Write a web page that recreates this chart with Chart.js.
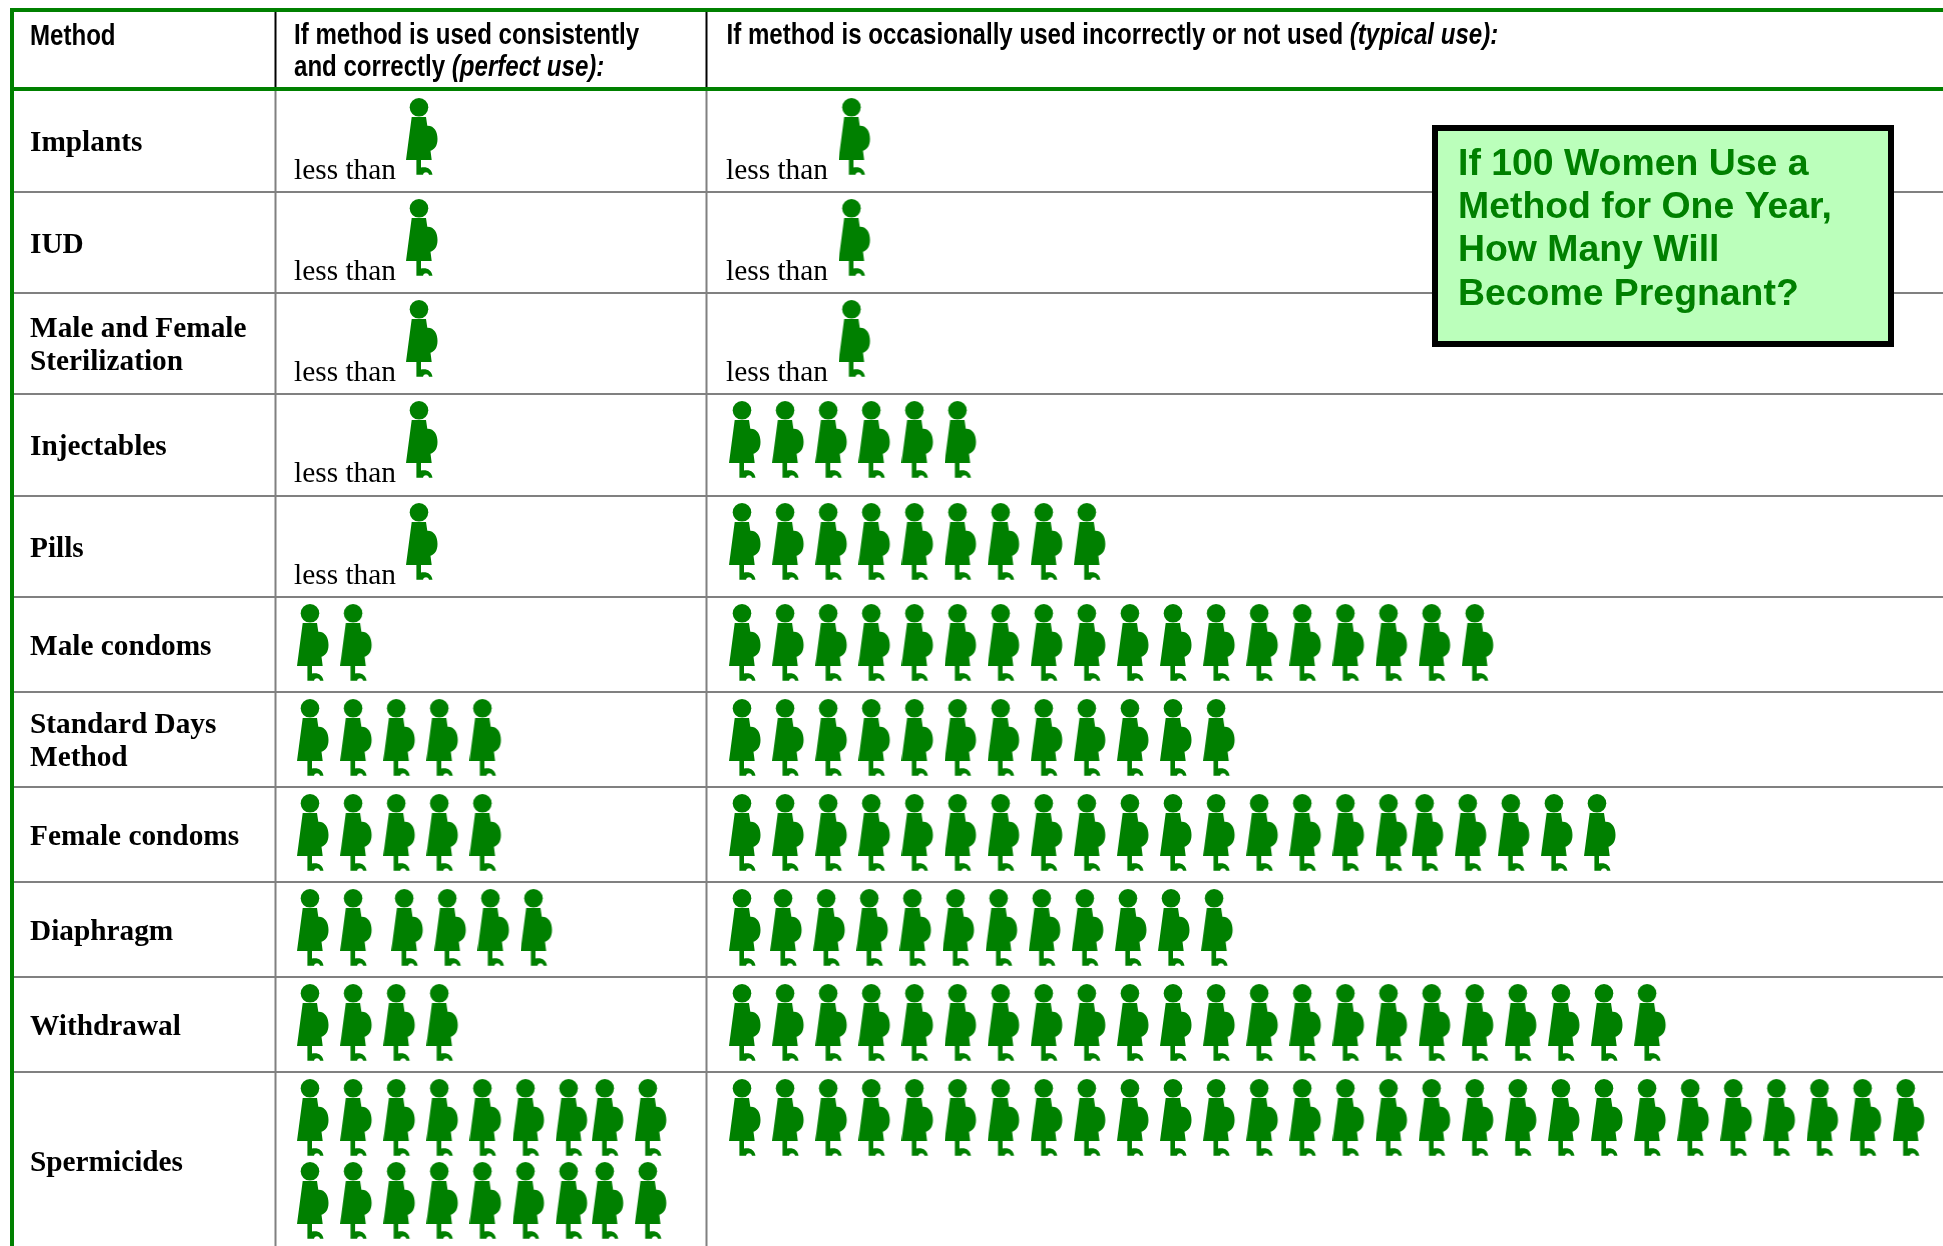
<!DOCTYPE html>
<html>
<head>
<meta charset="utf-8">
<title>If 100 Women Use a Method for One Year</title>
<script src="https://cdn.jsdelivr.net/npm/chart.js@4"></script>
<style>
  html, body { margin: 0; padding: 0; background: #fff; }
  canvas { display: block; }
</style>
</head>
<body>
<canvas id="methodsChart" width="1943" height="1246"></canvas>
<script>
// data: pregnancies per 100 women in one year (0.5 stands for "less than 1")
const methods = ['Implants', 'IUD', 'Male and Female\nSterilization', 'Injectables', 'Pills', 'Male condoms',
    'Standard Days\nMethod', 'Female condoms', 'Diaphragm', 'Withdrawal', 'Spermicides'];
const perfectUse = [0.5, 0.5, 0.5, 0.5, 0.5, 2, 5, 5, 6, 4, 18];
const typicalUse = [0.5, 0.5, 0.5, 6, 9, 18, 12, 21, 12, 22, 28];
const headers = ['Method', 'If method is used consistently', 'If method is occasionally used incorrectly or not used '];
const titleLines = ['If 100 Women Use a', 'Method for One Year,', 'How Many Will', 'Become Pregnant?'];

// table layout, in picture pixels
const rowLines = [89, 192, 293, 394, 496, 597, 692, 787, 882, 977, 1072];
const colLines = [275.5, 706.5];
const perfectLeft = 297, typicalLeft = 729, step = 43.1;
const figW = 33, figH = 78;
const perRow = 9;
// places where the original icons sit closer together or further apart: [row, index, shift]
const perfectShifts = [[8, 2, 8], [10, 7, -7]];
const typicalShifts = [[7, 16, -7], [8, 1, -2]];

// pregnant woman icon
function makeFigure() {
    const c = document.createElement('canvas');
    c.width = figW;
    c.height = figH;
    const g = c.getContext('2d');
    g.fillStyle = '#008000';
    g.beginPath();
    g.ellipse(13, 9.3, 9.3, 9.3, 0, 0, Math.PI * 2);
    g.fill();
    g.beginPath();
    g.moveTo(5.7, 19);
    g.lineTo(20, 19);
    g.lineTo(21.3, 27.7);
    g.bezierCurveTo(28.5, 27.5, 31.5, 34, 31.5, 41);
    g.bezierCurveTo(31.5, 48, 28.5, 51.5, 24.5, 52.7);
    g.lineTo(25.7, 62);
    g.lineTo(15, 62);
    g.lineTo(15, 69.5);
    g.bezierCurveTo(21.5, 68.5, 25.5, 71, 26.5, 76.7);
    g.lineTo(23, 76.7);
    g.bezierCurveTo(22, 73.5, 18, 73.5, 17, 76.7);
    g.lineTo(10.4, 76.7);
    g.lineTo(10.4, 62);
    g.lineTo(0, 62);
    g.closePath();
    g.fill();
    return c;
}

function shiftFor(shifts, row, i) {
    let s = 0;
    shifts.forEach(e => { if (e[0] === row && i >= e[1]) s += e[2]; });
    return s;
}

function rowTop(row) {
    return rowLines[row] + (row === 0 ? 9 : 7);
}

// one point per woman
function buildPoints(values, left, soloLeft, shifts) {
    const pts = [];
    values.forEach((v, row) => {
        if (v < 1) {
            pts.push({ x: soloLeft + figW / 2, y: rowTop(row) + figH / 2 });
            return;
        }
        for (let i = 0; i < v; i++) {
            const inRow = (row === 10 && left === perfectLeft) ? i % perRow : i;
            const line = (row === 10 && left === perfectLeft) ? Math.floor(i / perRow) : 0;
            pts.push({
                x: left + inRow * step + shiftFor(shifts, row, inRow) + figW / 2,
                y: rowTop(row) + line * 83 + figH / 2
            });
        }
    });
    return pts;
}

// condensed text: no narrow font is installed, so squeeze the normal one
function narrowText(ctx, text, x, y, style) {
    ctx.save();
    ctx.font = style + ' 29px "Liberation Sans"';
    ctx.translate(x, y);
    ctx.scale(0.83, 1);
    ctx.fillText(text, 0, 0);
    const w = ctx.measureText(text).width * 0.83;
    ctx.restore();
    return w;
}

// table rules and all the text
const tablePlugin = {
    id: 'table',
    beforeDatasetsDraw(chart) {
        const { ctx } = chart;
        const X = v => chart.scales.x.getPixelForValue(v);
        const Y = v => chart.scales.y.getPixelForValue(v);
        ctx.save();
        // rows
        ctx.fillStyle = '#808080';
        rowLines.slice(1).forEach(y => ctx.fillRect(X(12), Y(y) - 1, 1931, 2));
        colLines.forEach(x => ctx.fillRect(X(x) - 1, Y(90), 2, 1156));
        ctx.fillStyle = '#000';
        colLines.forEach(x => ctx.fillRect(X(x) - 1, Y(12), 2, 76));
        // green frame
        ctx.fillStyle = '#008000';
        ctx.fillRect(X(10), Y(8), 1933, 4);
        ctx.fillRect(X(10), Y(87), 1933, 4);
        ctx.fillRect(X(10), Y(8), 4, 1238);
        // header
        ctx.fillStyle = '#000';
        ctx.textBaseline = 'alphabetic';
        narrowText(ctx, headers[0], X(30), Y(45), 'bold');
        narrowText(ctx, headers[1], X(294), Y(44), 'bold');
        let w = narrowText(ctx, 'and correctly ', X(294), Y(76), 'bold');
        narrowText(ctx, '(perfect use):', X(294) + w, Y(76), 'italic bold');
        w = narrowText(ctx, headers[2], X(726.5), Y(44), 'bold');
        narrowText(ctx, '(typical use):', X(726.5) + w, Y(44), 'italic bold');
        // row names
        ctx.font = 'bold 29.3px "Liberation Serif"';
        methods.forEach((m, i) => {
            const bottom = i + 1 < rowLines.length ? rowLines[i + 1] : 1249;
            const mid = (rowLines[i] + bottom) / 2;
            const parts = m.split('\n');
            parts.forEach((p, k) => {
                ctx.fillText(p, X(30), Y(mid + 10 + (k - (parts.length - 1) / 2) * 32.5));
            });
        });
        // less than
        ctx.font = '29.4px "Liberation Serif"';
        methods.forEach((m, i) => {
            const y = rowLines[i] + (i === 0 ? 90 : 88);
            if (perfectUse[i] < 1) ctx.fillText('less than', X(294), Y(y));
            if (typicalUse[i] < 1) ctx.fillText('less than', X(726), Y(y));
        });
        ctx.restore();
    },
    afterDatasetsDraw(chart) {
        const { ctx } = chart;
        const X = v => chart.scales.x.getPixelForValue(v);
        const Y = v => chart.scales.y.getPixelForValue(v);
        ctx.save();
        ctx.fillStyle = '#000';
        ctx.fillRect(X(1432), Y(125), 462, 222);
        ctx.fillStyle = '#BBFFBB';
        ctx.fillRect(X(1438), Y(131), 450, 210);
        ctx.fillStyle = '#008000';
        ctx.font = 'bold 37.4px "Liberation Sans"';
        titleLines.forEach((t, i) => ctx.fillText(t, X(1458), Y(175 + i * 43.2)));
        ctx.restore();
    }
};

const figure = makeFigure();

new Chart(document.getElementById('methodsChart'), {
    type: 'scatter',
    data: {
        datasets: [
            {
                label: 'Perfect use',
                data: buildPoints(perfectUse, perfectLeft, 406, perfectShifts),
                pointStyle: figure,
                pointRadius: 1,
                showLine: false
            },
            {
                label: 'Typical use',
                data: buildPoints(typicalUse, typicalLeft, 838.5, typicalShifts),
                pointStyle: figure,
                pointRadius: 1,
                showLine: false
            }
        ]
    },
    options: {
        responsive: false,
        animation: false,
        layout: { padding: 0, autoPadding: false },
        scales: {
            x: { type: 'linear', min: 0, max: 1943, display: false },
            y: { type: 'linear', min: 0, max: 1246, reverse: true, display: false }
        },
        plugins: {
            legend: { display: false },
            tooltip: { enabled: false }
        }
    },
    plugins: [tablePlugin]
});
</script>
</body>
</html>
